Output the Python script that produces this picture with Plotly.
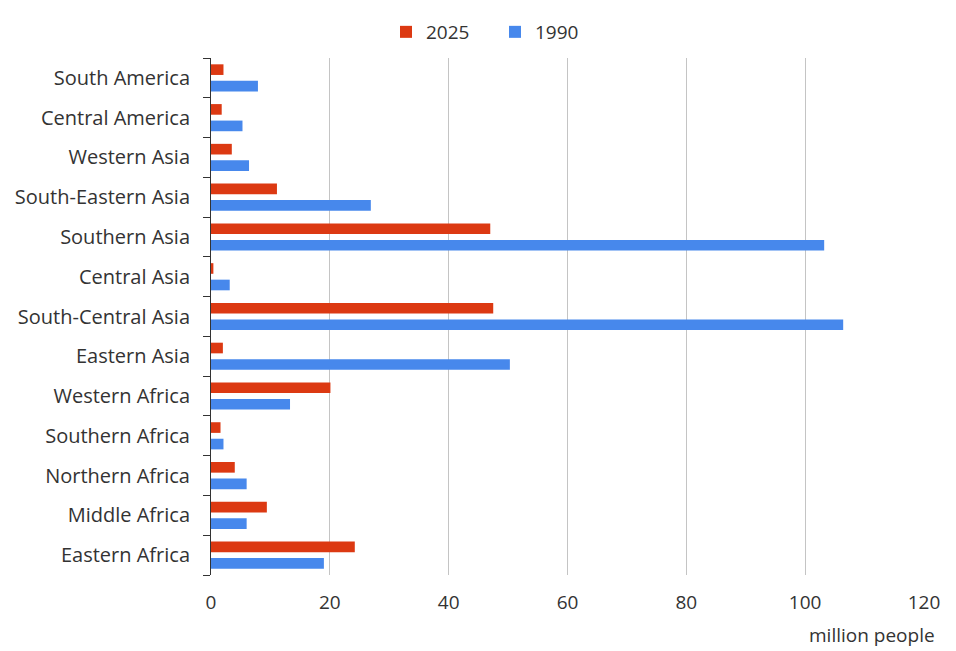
import plotly.graph_objects as go

regions = ["Eastern Africa", "Middle Africa", "Northern Africa", "Southern Africa",
           "Western Africa", "Eastern Asia", "South-Central Asia", "Central Asia",
           "Southern Asia", "South-Eastern Asia", "Western Asia", "Central America",
           "South America"]
values_2025 = [24.2, 9.4, 4.0, 1.6, 20.1, 2.0, 47.5, 0.4, 47.0, 11.1, 3.5, 1.8, 2.1]
values_1990 = [19.0, 6.0, 6.0, 2.1, 13.3, 50.3, 106.4, 3.15, 103.2, 26.9, 6.4, 5.3, 7.9]
x_ticks = [0, 20, 40, 60, 80, 100, 120]

FONT = "Open Sans"
TXT = "#333333"
W, H = 940, 643

fig = go.Figure()
fig.add_trace(go.Bar(y=regions, x=values_1990, name="1990", orientation="h",
                     marker=dict(color="#4788EC", line=dict(width=0))))
fig.add_trace(go.Bar(y=regions, x=values_2025, name="2025", orientation="h",
                     marker=dict(color="#DC3912", line=dict(width=0))))

fig.update_layout(
    width=W, height=H,
    margin=dict(l=203, r=24, t=50, b=76, autoexpand=False),
    paper_bgcolor="white", plot_bgcolor="white",
    font=dict(family=FONT, size=19, color=TXT),
    barmode="group", bargap=0.17, bargroupgap=0.355,
    legend=dict(orientation="h", traceorder="reversed",
                xref="container", yref="container",
                x=378 / W, xanchor="left", y=1 - 24 / H, yanchor="middle",
                font=dict(size=19, color=TXT), entrywidth=64),
    showlegend=True,
)
fig.update_xaxes(range=[0, 120], tickvals=x_ticks, showgrid=True,
                 gridcolor="#C4C4C4", gridwidth=1, zeroline=False,
                 showline=False, ticks="", ticklabelstandoff=14,
                 tickfont=dict(size=19, color=TXT), fixedrange=True)
fig.update_yaxes(showline=True, linecolor="#333333", linewidth=1,
                 ticks="outside", tickson="boundaries", ticklen=7,
                 tickcolor="#333333", tickwidth=1, showgrid=False,
                 ticklabelstandoff=16, tickfont=dict(size=20, color=TXT))

fig.add_annotation(text="million people", xref="paper", yref="paper",
                   x=1, y=0, xanchor="right", yanchor="middle", xshift=13,
                   yshift=-60, showarrow=False, font=dict(size=19, color=TXT))

fig.write_html("out.html")
